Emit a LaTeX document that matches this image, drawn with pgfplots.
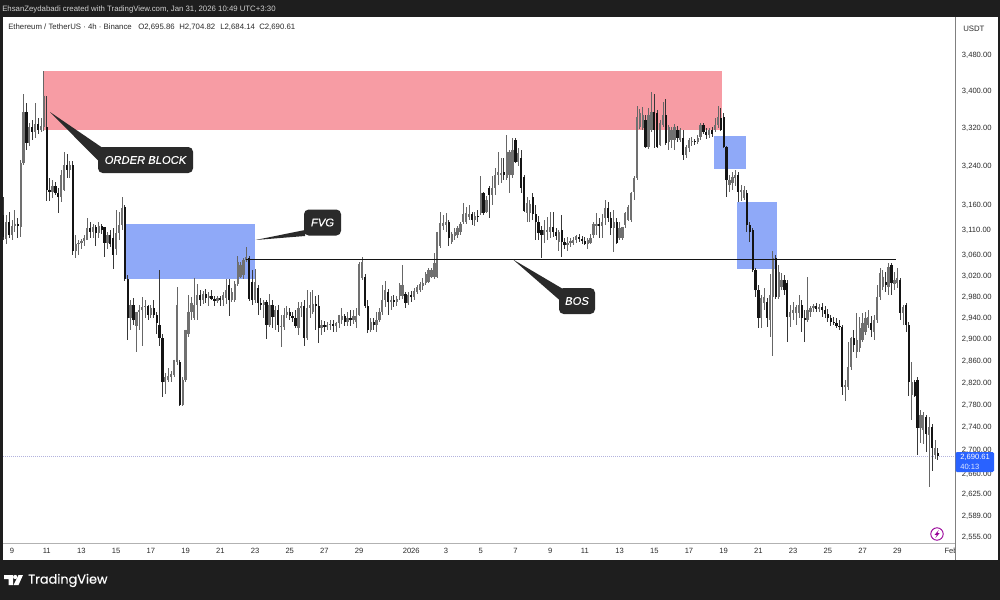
\documentclass[border=0pt]{standalone}
\usepackage{fontspec}
\setmainfont{Liberation Sans}
\newfontfamily\logofont{Poppins}
\usepackage{pgfplots}
\usepackage{pgfplotstable}
\pgfplotsset{compat=1.18}
\definecolor{frame}{HTML}{1E1E1E}
\definecolor{pinkzone}{HTML}{F79CA4}
\definecolor{bluezone}{HTML}{8FA9F8}
\definecolor{tagblue}{HTML}{2962FF}
\definecolor{callout}{HTML}{2A2A2A}
\definecolor{txt}{HTML}{2A2A2A}
\definecolor{upc}{HTML}{707070}
\pgfplotstableread{
k o h l c
-3 3141 3177 3091 3097
-2 3093 3141 3082 3127
-1 3127 3147 3095 3101
0 3101 3131 3091 3119
1 3119 3151 3107 3123
2 3123 3135 3095 3119
3 3117 3254 3097 3247
4 3247 3394 3243 3355
5 3355 3374 3275 3289
6 3289 3332 3283 3323
7 3323 3338 3296 3313
8 3313 3374 3300 3330
9 3330 3342 3308 3317
10 3317 3342 3313 3325
11 3323 3445 3315 3390
12 3323 3390 3168 3192
13 3192 3216 3168 3188
14 3188 3212 3176 3200
15 3200 3208 3182 3186
16 3186 3196 3145 3178
17 3178 3233 3166 3222
18 3192 3271 3190 3243
19 3243 3265 3216 3233
20 3233 3252 3216 3243
21 3243 3252 3062 3068
22 3068 3101 3056 3082
23 3082 3091 3062 3085
24 3085 3093 3072 3089
25 3089 3101 3078 3095
26 3091 3135 3091 3115
27 3115 3127 3095 3107
28 3107 3123 3095 3117
29 3117 3121 3078 3105
30 3105 3127 3095 3119
31 3119 3123 3103 3111
32 3117 3117 3058 3085
33 3085 3107 3072 3101
34 3101 3111 3076 3082
35 3095 3115 3033 3062
36 3072 3151 3062 3105
37 3105 3147 3091 3121
38 3121 3177 3111 3155
39 3157 3161 3010 3014
40 3014 3023 2899 2940
41 2940 2974 2918 2965
42 2965 2978 2927 2936
43 2925 2952 2877 2952
44 2952 2965 2918 2955
45 2955 2980 2888 2961
46 2961 2974 2940 2963
47 2963 2965 2936 2946
48 2946 2965 2940 2959
49 2959 2974 2940 2946
50 2946 2952 2910 2931
51 2927 3032 2888 2903
52 2903 2909 2795 2821
53 2821 2838 2800 2830
54 2826 2847 2821 2832
55 2830 2842 2822 2837
56 2835 2862 2830 2862
57 2858 2999 2852 2965
58 2858 2862 2778 2781
59 2781 2830 2779 2826
60 2826 2918 2822 2918
61 2909 2984 2905 2952
62 2952 2980 2936 2969
63 2940 3016 2936 2965
64 2965 3005 2936 2984
65 2984 2993 2963 2974
66 2974 2991 2967 2986
67 2986 2995 2969 2978
68 2978 2989 2963 2982
69 2982 2993 2974 2976
70 2976 2982 2963 2972
71 2972 2982 2969 2978
72 2978 2982 2963 2974
73 2974 2989 2963 2984
74 2978 3014 2967 2993
75 3003 3014 2944 2974
76 2974 2997 2970 2989
77 2974 3010 2970 3005
78 3005 3059 3001 3048
79 3019 3048 3017 3042
80 3022 3056 3014 3052
81 3052 3076 3048 3058
82 3056 3060 2972 2976
83 3009 3032 2965 2974
84 2974 3034 2969 3009
85 2997 3003 2946 2969
86 2969 2978 2955 2965
87 2965 2974 2940 2970
88 2970 2974 2901 2927
89 2927 2986 2923 2965
90 2965 2974 2921 2942
91 2942 2963 2918 2955
92 2955 2965 2914 2927
93 2923 2946 2886 2925
94 2923 2959 2918 2946
95 2946 2963 2940 2952
96 2952 2959 2936 2944
97 2944 2952 2933 2940
98 2940 2955 2921 2925
99 2921 2970 2908 2959
100 2959 2970 2942 2963
101 2963 2974 2888 2903
102 2903 2993 2899 2959
103 2959 2989 2940 2965
104 2952 2993 2948 2967
105 2967 2982 2918 2963
106 2963 2984 2893 2921
107 2921 2936 2908 2927
108 2927 2934 2914 2923
109 2923 2933 2918 2927
110 2927 2936 2918 2929
111 2929 2936 2914 2925
112 2925 2933 2914 2931
113 2931 2946 2921 2946
114 2936 2959 2929 2944
115 2944 2948 2925 2933
116 2933 2952 2925 2940
117 2940 2955 2925 2936
118 2936 2955 2929 2944
119 2933 2959 2921 2944
120 2946 3048 2944 3044
121 3017 3058 3013 3048
122 3019 3024 2959 2963
123 2963 2974 2912 2918
124 2918 2940 2914 2933
125 2933 2940 2918 2927
126 2927 2952 2914 2936
127 2936 2959 2933 2952
128 2952 3003 2946 2974
129 2974 3010 2961 2993
130 2989 2995 2946 2970
131 2970 2982 2955 2974
132 2974 2984 2961 2970
133 2970 2982 2963 2976
134 2982 3007 2974 3003
135 2982 3042 2976 3003
136 2986 2989 2959 2969
137 2969 2989 2965 2984
138 2984 2991 2970 2980
139 2980 2997 2974 2991
140 2989 3003 2986 2999
141 2993 3009 2989 3005
142 3001 3017 2993 3007
143 3007 3028 3003 3024
144 3009 3036 3007 3032
145 3019 3036 3017 3032
146 3019 3064 3015 3046
147 3019 3107 3017 3107
148 3078 3147 3074 3125
149 3119 3141 3111 3125
150 3121 3145 3107 3127
151 3127 3131 3078 3095
152 3087 3107 3082 3103
153 3099 3115 3091 3107
154 3101 3119 3095 3115
155 3107 3127 3101 3123
156 3127 3165 3123 3143
157 3127 3157 3123 3145
158 3137 3161 3131 3143
159 3143 3147 3121 3131
160 3131 3147 3119 3139
161 3139 3151 3127 3137
162 3145 3220 3141 3186
163 3184 3188 3141 3145
164 3147 3180 3145 3171
165 3196 3200 3135 3182
166 3182 3220 3161 3196
167 3196 3237 3182 3222
168 3222 3271 3202 3229
169 3222 3258 3206 3226
170 3229 3258 3212 3222
171 3216 3305 3212 3271
172 3222 3275 3186 3271
173 3222 3300 3216 3275
174 3296 3300 3248 3250
175 3250 3279 3241 3269
176 3258 3275 3186 3196
177 3218 3222 3147 3149
178 3145 3177 3127 3165
179 3145 3171 3127 3163
180 3178 3184 3131 3143
181 3143 3161 3091 3127
182 3127 3139 3091 3105
183 3111 3119 3056 3101
184 3101 3131 3085 3111
185 3107 3137 3091 3111
186 3107 3147 3095 3117
187 3117 3147 3097 3107
188 3107 3115 3091 3099
189 3087 3111 3068 3107
190 3111 3141 3058 3087
191 3087 3095 3072 3080
192 3080 3097 3068 3085
193 3085 3095 3076 3089
194 3085 3097 3080 3091
195 3091 3101 3085 3099
196 3097 3103 3087 3093
197 3093 3099 3082 3089
198 3089 3097 3080 3083
199 3083 3095 3072 3091
200 3085 3103 3082 3095
201 3101 3127 3095 3123
202 3119 3145 3101 3123
203 3123 3135 3095 3119
204 3119 3143 3095 3127
205 3135 3171 3121 3155
206 3155 3167 3127 3135
207 3135 3147 3101 3115
208 3115 3151 3066 3127
209 3127 3135 3082 3085
210 3095 3127 3091 3115
211 3095 3117 3091 3117
212 3121 3147 3115 3145
213 3131 3161 3129 3157
214 3131 3188 3127 3186
215 3188 3220 3171 3216
216 3216 3368 3212 3344
217 3323 3361 3319 3353
218 3321 3366 3317 3349
219 3338 3349 3279 3281
220 3281 3364 3277 3349
221 3317 3399 3313 3355
222 3355 3394 3279 3317
223 3353 3359 3279 3281
224 3285 3338 3283 3332
225 3328 3376 3323 3349
226 3349 3383 3285 3289
227 3291 3328 3275 3323
228 3296 3323 3279 3317
229 3296 3330 3275 3323
230 3317 3325 3291 3300
231 3296 3321 3291 3317
232 3300 3317 3254 3264
233 3264 3285 3258 3281
234 3279 3300 3271 3296
235 3291 3302 3283 3293
236 3293 3298 3285 3291
237 3291 3306 3287 3300
238 3302 3332 3296 3328
239 3328 3332 3308 3313
240 3313 3321 3298 3306
241 3306 3321 3300 3317
242 3317 3323 3302 3308
243 3317 3342 3311 3328
244 3328 3368 3321 3344
245 3342 3364 3315 3317
246 3344 3353 3279 3281
247 3281 3283 3178 3212
248 3202 3222 3188 3212
249 3206 3229 3192 3218
250 3216 3233 3200 3222
251 3222 3229 3166 3188
252 3188 3202 3168 3192
253 3174 3200 3171 3192
254 3186 3192 3107 3121
255 3121 3127 3087 3107
256 3111 3115 3028 3032
257 3032 3036 2980 2993
258 2993 3003 2921 2940
259 2940 2984 2921 2978
260 2969 2997 2955 2980
261 2970 2978 2923 2940
262 2936 3024 2905 2984
263 2980 3068 2869 3056
264 3056 3062 2976 2980
265 2980 3042 2976 3028
266 2999 3026 2993 3013
267 3013 3022 2984 2993
268 3007 3013 2895 2942
269 2942 2965 2923 2952
270 2950 2970 2936 2955
271 2950 2965 2927 2961
272 2950 2984 2940 2965
273 2965 2974 2914 2940
274 2940 2955 2895 2936
275 2936 3019 2933 2955
276 2952 2963 2942 2959
277 2959 2967 2952 2963
278 2963 2969 2952 2957
279 2957 2967 2952 2961
280 2961 2969 2942 2955
281 2955 2963 2940 2948
282 2948 2957 2933 2940
283 2940 2946 2925 2933
284 2933 2942 2927 2931
285 2931 2940 2921 2925
286 2925 2936 2918 2923
287 2923 2927 2799 2813
288 2813 2826 2787 2817
289 2813 2895 2808 2849
290 2849 2905 2844 2903
291 2903 2918 2877 2890
292 2877 2950 2866 2899
293 2884 2942 2877 2921
294 2899 2950 2895 2931
295 2914 2952 2908 2940
296 2927 2955 2921 2942
297 2931 2944 2905 2918
298 2914 2946 2899 2936
299 2936 3003 2931 2980
300 2980 3036 2974 3026
301 2999 3032 2993 3019
302 3009 3028 2989 3003
303 2999 3046 2984 3038
304 3042 3046 2984 3007
305 3005 3028 2993 3013
306 3007 3036 2997 3017
307 3013 3017 2936 2950
308 2950 2965 2927 2961
309 2965 2969 2914 2927
310 2927 2933 2797 2822
311 2799 2858 2754 2822
312 2822 2826 2795 2797
313 2826 2830 2693 2740
314 2740 2772 2714 2763
315 2737 2768 2711 2763
316 2760 2763 2697 2730
317 2727 2760 2638 2742
318 2742 2746 2665 2705
319 2693 2719 2685 2705
320 2695.86 2704.82 2684.14 2690.61
}\candles
\begin{document}
\begin{tikzpicture}
\begin{scope}[x=0.75pt,y=-0.75pt]
\path[use as bounding box] (0,0) rectangle (1000,600);
\fill[frame] (0,0) rectangle (1000,600);
\fill[white] (2.5,17) rectangle (997.5,560);
\end{scope}
\begin{axis}[
  at={(2.25pt,-407.25pt)}, anchor=south west,
  scale only axis, width=714pt, height=394.5pt,
  ymode=log,
  xmin=-3.11, xmax=325.95, ymin=2545.2, ymax=3565.8,
  axis x line*=bottom, axis y line*=right,
  x axis line style={draw=black!30,-}, y axis line style={draw=black!50,-},
  xtick={0,12,24,36,48,60,72,84,96,108,120,138,150,162,174,186,198,210,222,234,246,258,270,282,294,306,324.6},
  xticklabels={9,11,13,15,17,19,21,23,25,27,29,2026,3,5,7,9,11,13,15,17,19,21,23,25,27,29,Feb},
  ytick={3480,3400,3320,3240,3160,3110,3060,3020,2980,2940,2900,2860,2820,2780,2740,2700,2660,2625,2589,2555},
  yticklabels={{3,480.00},{3,400.00},{3,320.00},{3,240.00},{3,160.00},{3,110.00},{3,060.00},{3,020.00},{2,980.00},{2,940.00},{2,900.00},{2,860.00},{2,820.00},{2,780.00},{2,740.00},{2,700.00},{2,660.00},{2,625.00},{2,589.00},{2,555.00}},
  xtick style={draw=none}, ytick style={draw=none},
  minor tick num=0, major tick length=0pt, minor tick length=0pt,
  tick label style={font=\fontsize{5.7pt}{6pt}\selectfont, text=txt, inner sep=0pt},
  xticklabel style={anchor=center, yshift=-6pt},
  yticklabel style={anchor=west, xshift=5pt},
  axis on top=false, clip=true,
]
% zones
\addplot[fill=pinkzone, draw=none] coordinates {(11.06,3444.5)(245.4,3444.5)(245.4,3316.7)(11.06,3316.7)} --cycle;
\addplot[fill=bluezone, draw=none] coordinates {(39.4,3122.6)(84,3122.6)(84,3014.6)(39.4,3014.6)} --cycle;
\addplot[fill=bluezone, draw=none] coordinates {(242.7,3304)(253.7,3304)(253.7,3234.6)(242.7,3234.6)} --cycle;
\addplot[fill=bluezone, draw=none] coordinates {(250.6,3167)(264.4,3167)(264.4,3034)(250.6,3034)} --cycle;
% last price
\addplot[draw=black!45!blue!30!white, densely dotted, line width=0.5pt] coordinates {(-3.11,2690.61)(325.95,2690.61)};
% wicks
\addplot[draw=none, mark=none, error bars/.cd, y dir=both, y explicit, error mark=none,
  error bar style={line width=0.6pt, draw=black!60}]
  table[x=k, y expr={\thisrow{c}>=\thisrow{o} ? \thisrow{c} : nan},
        y error plus expr=\thisrow{h}-\thisrow{c}, y error minus expr=\thisrow{c}-\thisrow{l}] {\candles};
\addplot[draw=none, mark=none, error bars/.cd, y dir=both, y explicit, error mark=none,
  error bar style={line width=0.6pt, draw=black!78}]
  table[x=k, y expr={\thisrow{c}<\thisrow{o} ? \thisrow{c} : nan},
        y error plus expr=\thisrow{h}-\thisrow{c}, y error minus expr=\thisrow{c}-\thisrow{l}] {\candles};
% bodies
\addplot[draw=none, mark=none, error bars/.cd, y dir=both, y explicit, error mark=none,
  error bar style={line width=1.7pt, draw=upc}]
  table[x=k, y expr={\thisrow{c}>=\thisrow{o} ? \thisrow{c} : nan},
        y error plus expr=0, y error minus expr=\thisrow{c}-\thisrow{o}] {\candles};
\addplot[draw=none, mark=none, error bars/.cd, y dir=both, y explicit, error mark=none,
  error bar style={line width=1.7pt, draw=black!92}]
  table[x=k, y expr={\thisrow{c}<\thisrow{o} ? \thisrow{c} : nan},
        y error plus expr=\thisrow{o}-\thisrow{c}, y error minus expr=0] {\candles};
% break of structure line
\addplot[draw=black!92, line width=1.05pt] coordinates {(80.9,3052)(305.6,3052)};
\end{axis}
\begin{scope}[x=0.75pt,y=-0.75pt]
% cover and right border
\fill[white] (955.5,544) rectangle (997.5,560);
\draw[black!50, line width=0.6pt] (955,17) -- (955,560);
% title bar and legend
\node[anchor=west, inner sep=0, text=black!18, font=\fontsize{5.85pt}{6pt}\selectfont] at (2,9.5) {EhsanZeydabadi created with TradingView.com, Jan 31, 2026 10:49 UTC+3:30};
\begin{scope}[every node/.style={anchor=west, inner sep=0, text=txt, font=\fontsize{5.85pt}{6pt}\selectfont}]
\node at (8,27) {Ethereum / TetherUS · 4h · Binance};
\node at (138,27) {O2,695.86};
\node at (179,27) {H2,704.82};
\node at (220,27) {L2,684.14};
\node at (259,27) {C2,690.61};
\node at (963,29) {USDT};
\end{scope}
% callouts
\fill[callout] (50,112) -- (102,147.5) -- (98.5,161) -- cycle;
\fill[callout, rounded corners=3.5pt] (98,147) rectangle (193,173);
\node[text=white, inner sep=0, font=\fontsize{8.4pt}{9pt}\itshape\selectfont\addfontfeature{FakeBold=0.5}] at (145.5,160) {ORDER BLOCK};
\fill[callout] (255.5,240) -- (305,230) -- (305,236) -- cycle;
\fill[callout, rounded corners=3.5pt] (304,209.5) rectangle (341,235.5);
\node[text=white, inner sep=0, font=\fontsize{8.4pt}{9pt}\itshape\selectfont\addfontfeature{FakeBold=0.5}] at (322.5,222.5) {FVG};
\fill[callout] (513,259.5) -- (563,289) -- (559.5,300) -- cycle;
\fill[callout, rounded corners=3.5pt] (559,288) rectangle (595,314);
\node[text=white, inner sep=0, font=\fontsize{8.4pt}{9pt}\itshape\selectfont\addfontfeature{FakeBold=0.5}] at (577,301) {BOS};
% price tag
\fill[tagblue, rounded corners=1pt] (955.5,452) rectangle (994,472);
\node[anchor=west, inner sep=0, text=white, font=\fontsize{5.7pt}{6pt}\selectfont] at (960,457) {2,690.61};
\node[anchor=west, inner sep=0, text=white!85!tagblue, font=\fontsize{5.7pt}{6pt}\selectfont] at (960,467) {40:13};
% lightning icon
\draw[violet!80!magenta, line width=0.7pt] (937,534) circle (6.2);
\fill[violet!80!magenta] (938.8,530) -- (934.6,534.8) -- (936.8,534.8) -- (935.4,538) -- (939.5,533.2) -- (937.3,533.2) -- cycle;
% logo
\fill[white] (4,575) -- (13,575) -- (13,585) -- (8.5,585) -- (8.5,579) -- (4,579) -- cycle;
\fill[white] (15.2,577) circle (2.1);
\fill[white] (18.5,575) -- (23,575) -- (18.5,585) -- (13.6,585) -- cycle;
\node[anchor=west, inner sep=0, text=white, font=\logofont\fontsize{9.6pt}{11pt}\selectfont\addfontfeature{FakeBold=0.4}] at (28,580.5) {TradingView};
\end{scope}
\end{tikzpicture}
\end{document}
